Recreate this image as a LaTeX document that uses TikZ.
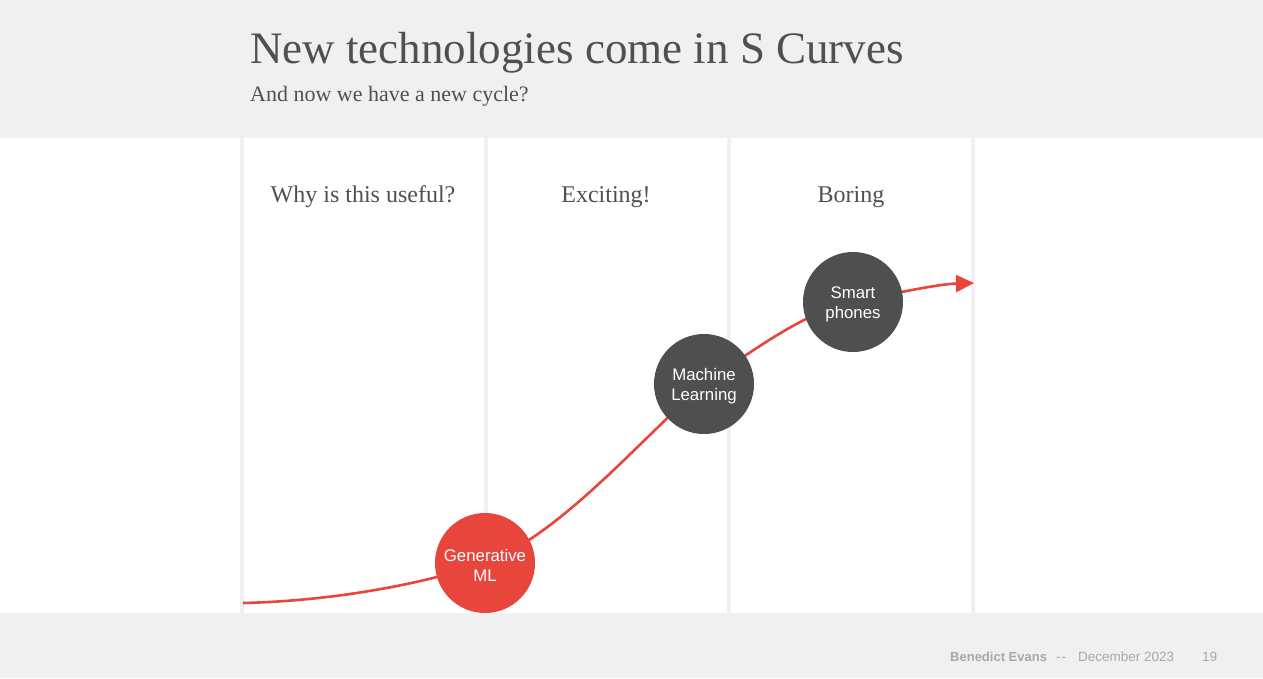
\documentclass[tikz,border=0pt]{standalone}
\usepackage{fontspec}
\setmainfont{Liberation Serif}
\setsansfont{Liberation Sans}
\usetikzlibrary{arrows.meta}
\definecolor{bandgray}{HTML}{F0F0F0}
\definecolor{inkgray}{HTML}{505050}
\definecolor{darkdot}{HTML}{4F4F4F}
\definecolor{sred}{HTML}{E8453C}
\definecolor{footgray}{HTML}{A8A8A8}
\tikzset{
  divider/.style={line width=4pt, draw=bandgray},
  colhead/.style={anchor=base, font=\fontsize{24}{28}\selectfont, text=inkgray, inner sep=0pt},
  dot/.style={circle, minimum size=100pt, inner sep=0pt, align=center, text=white,
     font=\sffamily\fontsize{16.8}{20}\selectfont, text depth=0pt},
  curveline/.style={draw=sred, line width=2.6pt},
  foot/.style={anchor=base west, inner sep=0pt, text=footgray, font=\sffamily\fontsize{13.5}{16}\selectfont}
}
\begin{document}
\begin{tikzpicture}[x=1pt,y=-1pt]
\useasboundingbox (0,0) rectangle (1263,678);
\fill[white] (0,0) rectangle (1263,678);
\fill[bandgray] (0,0) rectangle (1263,138);
\fill[bandgray] (0,613) rectangle (1263,678);
\foreach \x in {242,486,729,973} \draw[divider] (\x,138) -- (\x,613);
% titles
\node[anchor=base west, inner sep=0pt, text=inkgray, font=\fontsize{45}{50}\selectfont] (title) at (250,63) {New technologies come in S Curves};
\node[anchor=base west, inner sep=0pt, text=inkgray, font=\fontsize{22}{26}\selectfont] (subtitle) at (250,101) {And now we have a new cycle?};
\node[colhead] (h1) at (363,202) {Why is this useful?};
\node[colhead] (h2) at (606,202) {Exciting!};
\node[colhead] (h3) at (851,202) {Boring};
% curve
\coordinate (start) at (243,603);
\coordinate (g) at (485,563);
\coordinate (ml) at (704,384);
\coordinate (sp) at (853,302);
\coordinate (tip) at (974,283);
\draw[curveline, -{Triangle[length=18pt,width=17pt]}]
  (start) .. controls (330,601) and (420,585) .. (g)
  .. controls (560,535) and (640,440) .. (ml)
  .. controls (760,345) and (810,310) .. (sp)
  .. controls (900,292) and (940,284) .. (tip);
% dots
\node[dot, fill=sred] (gen) at (g) {};
\node[dot, fill=darkdot] (mlnode) at (ml) {};
\node[dot, fill=darkdot] (spnode) at (sp) {};
\node[align=center, text=white, font=\sffamily\fontsize{16.8}{20}\selectfont, inner sep=0pt, yshift=-2pt] (gentext) at (gen.center) {Generative\\ML};
\node[align=center, text=white, font=\sffamily\fontsize{16.8}{20}\selectfont, inner sep=0pt, yshift=-2pt] (mltext) at (mlnode.center) {Machine\\Learning};
\node[align=center, text=white, font=\sffamily\fontsize{16.8}{20}\selectfont, inner sep=0pt, yshift=-2pt] (sptext) at (spnode.center) {Smart\\phones};
% footer
\node[foot, font=\sffamily\bfseries\fontsize{13}{16}\selectfont] (author) at (950,661) {Benedict Evans};
\node[foot] (dash) at (1056,661) {-\kern1pt-};
\node[foot] (date) at (1078,661) {December 2023};
\node[foot] (page) at (1202,661) {19};
\end{tikzpicture}
\end{document}
